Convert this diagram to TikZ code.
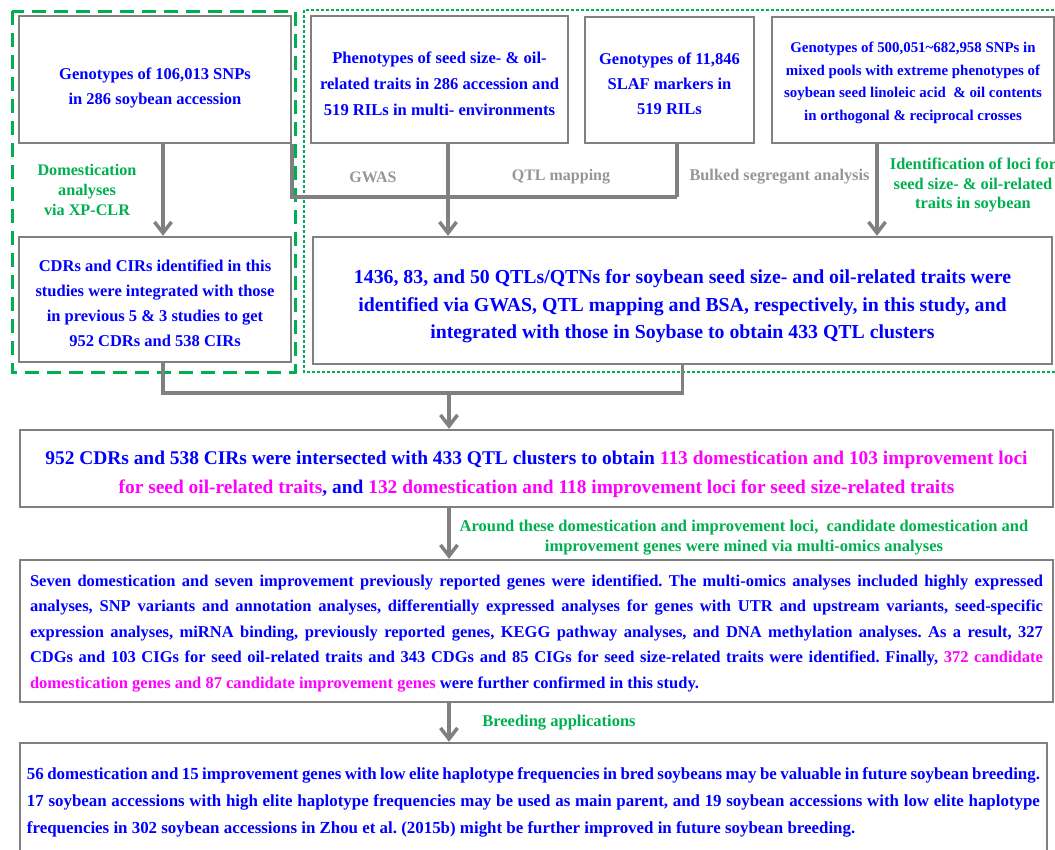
\documentclass[tikz,border=0pt]{standalone}
\usepackage{fontspec}
\setmainfont{Liberation Serif}
\usepackage{xcolor}
\usepackage{tikz}
\usetikzlibrary{positioning, arrows.meta, calc}

\definecolor{lineGray}{RGB}{128,128,128}
\definecolor{tagGray}{RGB}{150,150,150}
\definecolor{noteGreen}{RGB}{0,176,80}
\definecolor{txtBlue}{RGB}{0,0,255}
\definecolor{hiPink}{RGB}{255,0,255}
% invisible strut that pushes a box text down a little
\newcommand{\toppad}[1]{\rule{0pt}{#1}}
% word spaces that may shrink a bit in the justified boxes
\newcommand{\loosespace}{\spaceskip=0.25em plus 0.3em minus 0.1em\relax}

\begin{document}
\frenchspacing
\begin{tikzpicture}[x=1pt, y=-1pt,
    box/.style={draw=lineGray, line width=2.4pt, fill=white, text=txtBlue, align=center, inner sep=0pt},
    link/.style={draw=lineGray, line width=3.5pt},
    flow/.style={link, -{Straight Barb[length=11pt, width=17pt]}},
    note/.style={text=noteGreen, align=center, font=\bfseries\fontsize{16.5}{20}\selectfont},
    tag/.style={text=tagGray, font=\bfseries\fontsize{16}{20}\selectfont}]
        % Page: 1055 x 849, y runs downwards
        \clip (0,0) rectangle (1055,849);
        \fill[white] (0,0) rectangle (1055,849);
        % Frames: domestication (dashed) and loci (dotted)
        \draw[noteGreen, line width=3pt, dash pattern=on 14pt off 8pt] (12,11) rectangle (295,372);
        \draw[noteGreen, line width=2.6pt, dash pattern=on 2.6pt off 2.4pt] (304,10) rectangle (1062,372);
        % Top row of input boxes
        \node[box, minimum width=272pt, minimum height=127pt, font=\bfseries\fontsize{16.5}{25}\selectfont] (geno) at (155,79.5)
            {\toppad{28pt}Genotypes of 106,013 SNPs\\in 286 soybean accession};
        \node[box, minimum width=257pt, minimum height=127pt, font=\bfseries\fontsize{16.6}{26}\selectfont] (pheno) at (439.5,79.5)
            {\toppad{20pt}Phenotypes of seed size- \& oil-\\related traits in 286 accession and\\519 RILs in multi- environments};
        \node[box, minimum width=169pt, minimum height=126pt, font=\bfseries\fontsize{16.5}{25}\selectfont] (slaf) at (669.5,80)
            {\toppad{19pt}Genotypes of 11,846\\SLAF markers in\\519 RILs};
        \node[box, minimum width=282pt, minimum height=126pt, font=\bfseries\fontsize{14.9}{22.7}\selectfont] (pools) at (913,80)
            {\toppad{16.5pt}Genotypes of 500,051\textasciitilde 682,958 SNPs in\\mixed pools with extreme phenotypes of\\soybean seed linoleic acid \ \& oil contents\\in orthogonal \& reciprocal crosses};
        % Second row
        \node[box, minimum width=272pt, minimum height=125pt, font=\bfseries\fontsize{16.5}{25}\selectfont] (cdr) at (155,299.5)
            {\toppad{20pt}CDRs and CIRs identified in this\\studies were integrated with those\\in previous 5 \& 3 studies to get\\952 CDRs and 538 CIRs};
        \node[box, minimum width=739pt, minimum height=127pt, font=\bfseries\fontsize{19.8}{27.5}\selectfont] (qtl) at (682.5,300.5)
            {\toppad{26pt}1436, 83, and 50 QTLs/QTNs for soybean seed size- and oil-related traits were\\identified via GWAS, QTL mapping and BSA, respectively, in this study, and\\integrated with those in Soybase to obtain 433 QTL clusters};
        % Lower boxes
        \node[box, minimum width=1033pt, minimum height=77pt, font=\bfseries\fontsize{19.4}{29}\selectfont] (inter) at (536.5,468.5)
            {\toppad{25pt}952 CDRs and 538 CIRs were intersected with 433 QTL clusters to obtain \textcolor{hiPink}{113 domestication and 103 improvement loci}\\\textcolor{hiPink}{for seed oil-related traits}, and \textcolor{hiPink}{132 domestication and 118 improvement loci for seed size-related traits}};
        \node[box, minimum width=1033pt, minimum height=142pt, text width=1013pt, align=justify, font=\bfseries\fontsize{16.5}{25.5}\selectfont] (omics) at (536.5,631)
            {\loosespace\toppad{16pt}Seven domestication and seven improvement previously reported genes were identified. The multi-omics analyses included highly expressed\linebreak
             analyses, SNP variants and annotation analyses, differentially expressed analyses for genes with UTR and upstream variants, seed-specific\linebreak
             expression analyses, miRNA binding, previously reported genes, KEGG pathway analyses, and DNA methylation analyses. As a result, 327\linebreak
             CDGs and 103 CIGs for seed oil-related traits and 343 CDGs and 85 CIGs for seed size-related traits were identified. Finally, \textcolor{hiPink}{372 candidate}\linebreak
             \textcolor{hiPink}{domestication genes and 87 candidate improvement genes} were further confirmed in this study.};
        \node[box, minimum width=1027pt, minimum height=114pt, text width=1013pt, align=justify, font=\bfseries\fontsize{16.9}{27}\selectfont] (breed) at (533.5,800)
            {\loosespace\toppad{17pt}56 domestication and 15 improvement genes with low elite haplotype frequencies in bred soybeans may be valuable in future soybean breeding.\linebreak
             17 soybean accessions with high elite haplotype frequencies may be used as main parent, and 19 soybean accessions with low elite haplotype\linebreak
             frequencies in 302 soybean accessions in Zhou et al. (2015b) might be further improved in future soybean breeding.};
        % Junction points
        \coordinate (topjoin) at (677,197);
        \coordinate (gwasjoin) at (448,197);
        \coordinate (lowjoin) at (449,393);
        % Connectors in the top frames
        \draw[flow] ([xshift=8pt]geno.south) -- ([xshift=8pt]geno.south |- cdr.north);
        \draw[link] (geno.south east) |- (topjoin);
        \draw[link] (pheno.south -| gwasjoin) -- (gwasjoin);
        \draw[link] (slaf.south -| topjoin) -- (topjoin);
        \draw[flow] (gwasjoin) -- (gwasjoin |- qtl.north);
        \draw[flow] ([xshift=-36pt]pools.south) -- ([xshift=-36pt]pools.south |- qtl.north);
        % Merge and go down
        \draw[link] ([xshift=8pt]cdr.south) |- (lowjoin) -| (qtl.south);
        \draw[flow] (lowjoin) -- (lowjoin |- inter.north);
        \draw[flow] (lowjoin |- inter.south) -- (lowjoin |- omics.north);
        \draw[flow] (lowjoin |- omics.south) -- (lowjoin |- breed.north);
        % Labels on the connectors
        \node[note, font=\bfseries\fontsize{16.2}{20}\selectfont] (domlab) at (87,190) {Domestication\\analyses\\via XP-CLR};
        \node[tag] (gwaslab) at (373,177) {GWAS};
        \node[tag] (qtllab) at (561,177) {QTL mapping};
        \node[tag, anchor=east, font=\bfseries\fontsize{16.3}{20}\selectfont] (bsalab) at (873,177) {Bulked segregant analysis};
        \node[note, font=\bfseries\fontsize{16.4}{19.5}\selectfont] (locilab) at (973,185) {Identification of loci for\\seed size- \& oil-related\\traits in soybean};
        \node[note] (minelab) at (744,538) {Around these domestication and improvement loci, \ candidate domestication and\\improvement genes were mined via multi-omics analyses};
        \node[note] (breedlab) at (559,723) {Breeding applications};
      \end{tikzpicture}
\end{document}
